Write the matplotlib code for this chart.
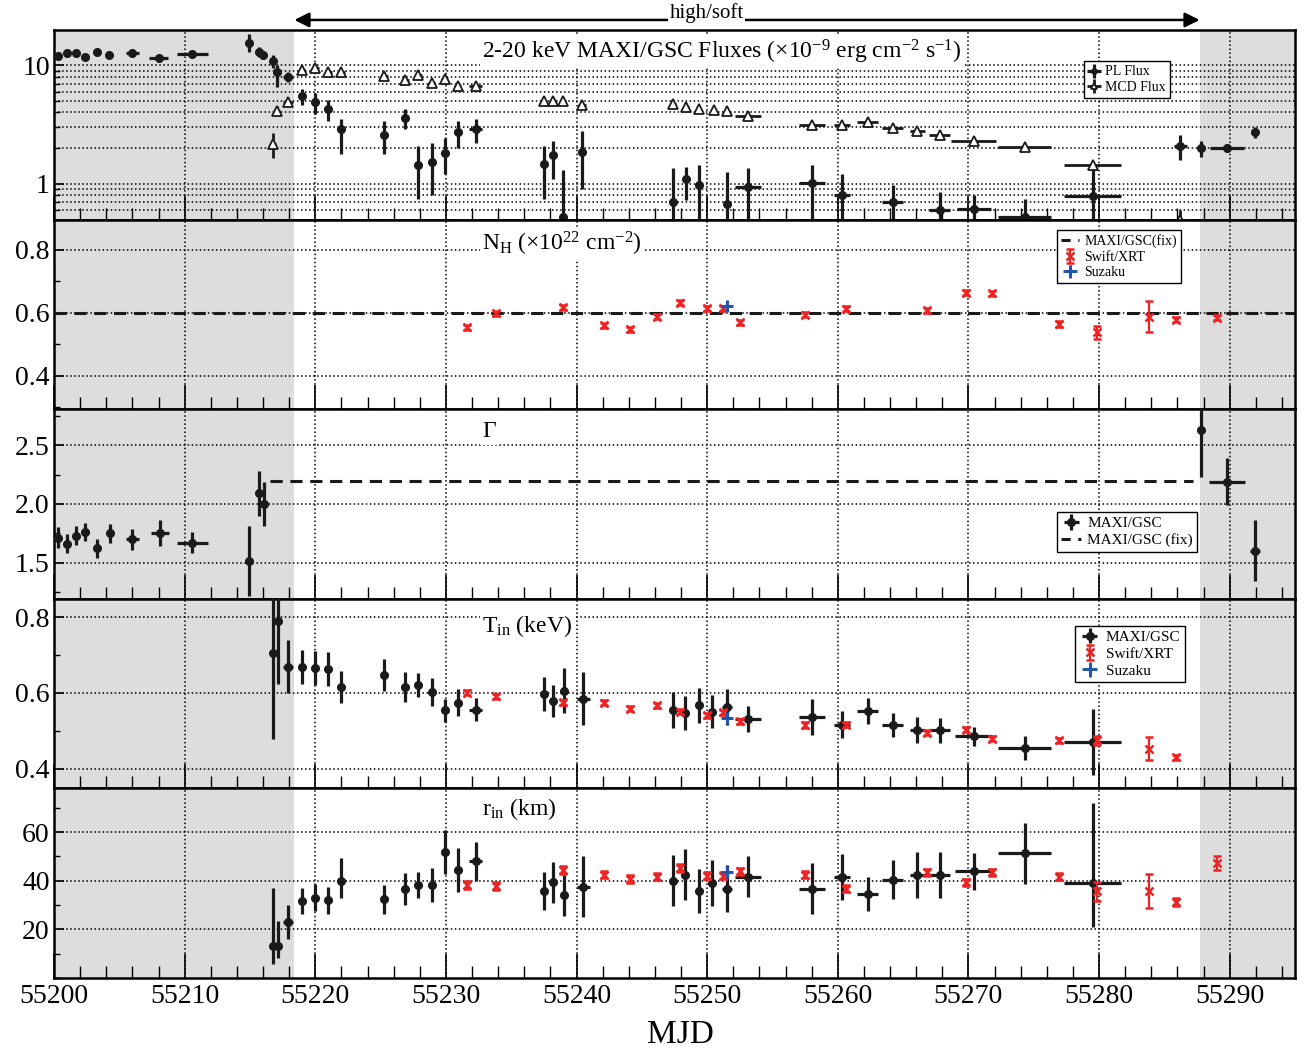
import numpy as np
import matplotlib.pyplot as plt
from matplotlib.ticker import MultipleLocator, LogLocator, NullFormatter, FixedLocator, FixedFormatter
from matplotlib.lines import Line2D

plt.rcParams['font.family'] = ['Liberation Serif', 'DejaVu Serif']
plt.rcParams['mathtext.fontset'] = 'custom'
plt.rcParams['mathtext.rm'] = 'Liberation Serif'
plt.rcParams['mathtext.it'] = 'Liberation Serif:italic'

# ---- MAXI/GSC power-law flux (x1e-9 erg/cm2/s), bounds lo/hi
t_pl = [55200.3, 55201.0, 55201.7, 55202.4, 55203.3, 55204.2, 55206.0, 55208.0, 55210.6,
        55214.9, 55215.7, 55216.0, 55216.8, 55217.1, 55217.9, 55219.0, 55220.0, 55221.0,
        55222.0, 55225.3, 55226.9, 55227.9, 55228.9, 55229.9, 55230.9, 55232.3, 55237.5,
        55238.2, 55239.0, 55240.4, 55247.4, 55248.4, 55249.35, 55251.5, 55253.1, 55258.0,
        55260.3, 55264.2, 55267.8, 55270.4, 55274.3, 55279.5, 55286.2, 55287.8, 55289.8,
        55291.9]
te_pl = [0.25, 0.25, 0.25, 0.25, 0.25, 0.25, 0.5, 0.7, 1.2,
         0.2, 0.2, 0.2, 0.2, 0.2, 0.4, 0.25, 0.25, 0.25,
         0.25, 0.25, 0.25, 0.25, 0.25, 0.25, 0.25, 0.5, 0.2,
         0.2, 0.2, 0.3, 0.2, 0.2, 0.2, 0.2, 1.0, 1.0,
         0.6, 0.8, 0.8, 1.3, 2.0, 2.2, 0.5, 0.1, 1.3,
         0.3]
pl = [12.0, 12.6, 12.6, 11.8, 13.0, 12.2, 12.6, 11.6, 12.4,
      15.5, 13.0, 12.2, 10.8, 8.7, 7.9, 5.5, 4.9, 4.3,
      2.9, 2.6, 3.6, 1.44, 1.54, 1.83, 2.75, 2.9, 1.46,
      1.74, 0.53, 1.86, 0.71, 1.09, 0.97, 0.68, 0.95, 1.02,
      0.81, 0.70, 0.60, 0.62, 0.53, 0.79, 2.09, 2.0, 2.0,
      2.75]
pl_lo = [11.6, 12.2, 12.2, 11.4, 12.5, 11.8, 12.1, 11.1, 11.8,
         12.8, 11.8, 11.2, 9.5, 6.5, 7.2, 4.6, 3.9, 3.4,
         1.8, 1.8, 2.9, 0.74, 0.8, 1.2, 2.0, 2.2, 0.75,
         1.1, 0.45, 0.9, 0.45, 0.73, 0.45, 0.45, 0.5, 0.5,
         0.45, 0.48, 0.45, 0.45, 0.45, 0.45, 1.6, 1.7, 1.85,
         2.45]
pl_hi = [12.4, 13.0, 13.0, 12.2, 13.5, 12.6, 13.1, 12.1, 13.0,
         18.3, 14.2, 13.3, 12.2, 10.1, 8.7, 6.3, 5.8, 5.1,
         3.5, 3.4, 4.3, 2.1, 2.2, 2.45, 3.4, 3.5, 2.1,
         2.3, 1.3, 2.8, 1.35, 1.4, 1.45, 1.25, 1.35, 1.45,
         1.2, 0.98, 0.85, 0.8, 0.75, 1.45, 2.6, 2.3, 2.15,
         3.0]

# ---- MAXI/GSC MCD flux
t_mf = [55216.8, 55217.1, 55217.9, 55219.0, 55220.0, 55221.0, 55222.0, 55225.3, 55226.9,
        55227.9, 55228.9, 55229.9, 55230.9, 55232.3, 55237.5, 55238.2, 55239.0, 55240.4,
        55247.4, 55248.4, 55249.35, 55250.5, 55251.5, 55253.1, 55258.0, 55260.3, 55262.3,
        55264.2, 55266.1, 55267.8, 55270.4, 55274.3, 55279.5, 55286.2]
te_mf = [0.2, 0.2, 0.4, 0.25, 0.25, 0.25, 0.25, 0.25, 0.25,
         0.25, 0.25, 0.25, 0.25, 0.5, 0.2, 0.2, 0.2, 0.3,
         0.2, 0.2, 0.2, 0.2, 0.2, 1.0, 1.0, 0.6, 0.8,
         0.8, 0.6, 0.8, 1.7, 2.0, 2.2, 0.2]
mf = [2.16, 4.15, 4.9, 9.1, 9.4, 8.8, 8.8, 8.1, 7.5,
      8.3, 7.1, 7.7, 6.7, 6.7, 5.0, 5.0, 5.0, 4.65,
      4.72, 4.48, 4.29, 4.2, 4.15, 3.76, 3.13, 3.13, 3.34,
      2.93, 2.77, 2.59, 2.31, 2.05, 1.44, 0.5]
mf_err = [0.5, 0.35, 0.3, 0.3, 0.3, 0.3, 0.3, 0.3, 0.3,
          0.3, 0.3, 0.3, 0.25, 0.25, 0.15, 0.15, 0.15, 0.2,
          0.15, 0.15, 0.15, 0.15, 0.15, 0.1, 0.1, 0.1, 0.12,
          0.1, 0.1, 0.1, 0.08, 0.06, 0.1, 0.1]

# ---- photon index (MAXI/GSC)
t_g = [55200.3, 55201.0, 55201.7, 55202.4, 55203.3, 55204.3, 55206.0, 55208.1, 55210.6,
       55214.9, 55215.7, 55216.1, 55287.8, 55289.8, 55291.95]
te_g = [0.25, 0.25, 0.25, 0.25, 0.25, 0.25, 0.5, 0.7, 1.2,
        0.1, 0.1, 0.1, 0.1, 1.35, 0.4]
gam = [1.71, 1.66, 1.73, 1.76, 1.62, 1.75, 1.70, 1.75, 1.67,
       1.51, 2.09, 2.00, 2.63, 2.19, 1.60]
gam_err = [0.09, 0.08, 0.08, 0.08, 0.08, 0.08, 0.09, 0.11, 0.09,
           0.30, 0.19, 0.19, 0.40, 0.20, 0.26]
gam_fix = 2.2
t_gfix = [55216.5, 55287.2]

# ---- MCD parameters (MAXI/GSC)
t_m = [55216.8, 55217.15, 55217.9, 55219.0, 55220.0, 55221.0, 55222.0, 55225.3, 55226.9,
       55227.9, 55228.9, 55229.9, 55230.9, 55232.3, 55237.5, 55238.2, 55239.05, 55240.5,
       55247.4, 55248.3, 55249.35, 55250.4, 55251.5, 55253.1, 55258.0, 55260.3, 55262.3,
       55264.2, 55266.1, 55267.8, 55270.4, 55274.3, 55279.5]
te_m = [0.1, 0.1, 0.4, 0.25, 0.25, 0.25, 0.25, 0.25, 0.25,
        0.25, 0.25, 0.25, 0.25, 0.5, 0.2, 0.2, 0.2, 0.5,
        0.2, 0.2, 0.2, 0.2, 0.4, 1.0, 1.0, 0.6, 0.8,
        0.8, 0.6, 0.8, 1.4, 2.0, 2.2]
tin = [0.705, 0.789, 0.669, 0.668, 0.665, 0.663, 0.615, 0.648, 0.615,
       0.620, 0.603, 0.554, 0.574, 0.556, 0.598, 0.578, 0.606, 0.584,
       0.554, 0.547, 0.567, 0.550, 0.562, 0.531, 0.537, 0.516, 0.552,
       0.515, 0.503, 0.501, 0.486, 0.455, 0.470]
tin_lo = [0.226, 0.165, 0.07, 0.045, 0.045, 0.045, 0.043, 0.042, 0.04,
          0.032, 0.037, 0.03, 0.035, 0.03, 0.045, 0.042, 0.06, 0.07,
          0.047, 0.044, 0.046, 0.044, 0.047, 0.035, 0.048, 0.036, 0.034,
          0.032, 0.034, 0.033, 0.025, 0.032, 0.087]
tin_hi = [0.2, 0.165, 0.07, 0.045, 0.045, 0.045, 0.043, 0.042, 0.04,
          0.032, 0.037, 0.03, 0.035, 0.03, 0.045, 0.042, 0.06, 0.07,
          0.047, 0.044, 0.046, 0.044, 0.047, 0.035, 0.048, 0.036, 0.034,
          0.032, 0.034, 0.033, 0.025, 0.032, 0.087]
rin = [13.3, 13.3, 23.1, 31.7, 33.1, 32.0, 40.0, 32.4, 36.5,
       38.3, 38.3, 51.8, 44.4, 48.0, 35.8, 39.3, 34.0, 37.5,
       40.0, 42.5, 35.8, 39.0, 36.8, 41.7, 36.8, 41.4, 34.7,
       40.4, 42.5, 42.5, 43.9, 51.3, 39.0]
rin_lo = [7.6, 5.0, 7.0, 5.5, 5.7, 5.5, 7.2, 6.0, 6.5,
          5.5, 7.0, 9.0, 9.0, 8.0, 8.0, 8.5, 8.5, 12.5,
          10.5, 10.5, 9.0, 9.5, 9.5, 8.5, 10.5, 9.5, 7.0,
          8.0, 9.5, 9.5, 7.5, 12.5, 18.0]
rin_hi = [23.6, 10.0, 7.0, 5.5, 5.7, 5.5, 9.4, 6.0, 6.5,
          5.5, 7.0, 9.0, 9.0, 8.0, 8.0, 8.5, 8.5, 12.5,
          10.5, 10.5, 9.0, 9.5, 9.5, 8.5, 10.5, 9.5, 7.0,
          8.0, 9.5, 9.5, 7.5, 12.5, 33.0]

# ---- Swift/XRT
t_x = [55231.65, 55233.8, 55238.97, 55242.1, 55244.1, 55246.15, 55247.95, 55250.0, 55251.2,
       55252.5, 55257.5, 55260.6, 55266.8, 55269.8, 55271.8, 55276.9, 55279.85, 55283.8,
       55285.9, 55289.0]
nh_x = [0.553, 0.598, 0.617, 0.560, 0.547, 0.587, 0.632, 0.614, 0.614,
        0.570, 0.593, 0.612, 0.608, 0.663, 0.661, 0.564, 0.537, 0.587,
        0.577, 0.584]
nh_x_err = [0.008, 0.008, 0.008, 0.008, 0.008, 0.008, 0.008, 0.008, 0.008,
            0.008, 0.008, 0.008, 0.008, 0.008, 0.008, 0.008, 0.02, 0.05,
            0.008, 0.008]
tin_x = [0.600, 0.591, 0.575, 0.574, 0.558, 0.567, 0.550, 0.541, 0.549,
         0.525, 0.515, 0.516, 0.495, 0.503, 0.479, 0.475, 0.475, 0.453,
         0.430, np.nan]
tin_x_err = [0.007, 0.007, 0.007, 0.007, 0.007, 0.007, 0.007, 0.007, 0.007,
             0.007, 0.007, 0.007, 0.007, 0.007, 0.007, 0.007, 0.012, 0.03,
             0.007, 0.0]
rin_x = [38.3, 37.9, 44.4, 42.5, 40.7, 41.7, 45.3, 42.1, 42.1,
         43.9, 42.5, 36.8, 43.5, 39.3, 43.5, 41.7, 35.6, 35.8,
         31.3, 47.3]
rin_x_err = [1.5, 1.5, 1.5, 1.5, 1.5, 1.5, 1.5, 1.5, 1.5,
             1.5, 1.5, 1.5, 1.5, 1.5, 1.5, 1.5, 4.0, 7.0,
             1.5, 3.0]

# ---- Suzaku
t_s = [55251.5]
nh_s = [0.622]
tin_s = [0.534]
rin_s = [43.5]

nh_fix = 0.6

xmin, xmax = 55200, 55295
soft_start, soft_end = 55218.4, 55287.7
red = '#ee2222'
blue = '#2255aa'

fig = plt.figure(figsize=(13.04, 10.54), dpi=100)
gs = fig.add_gridspec(5, 1, left=54/1304, right=1295/1304, top=1-30/1054,
                      bottom=1-978/1054, hspace=0)
axes = [fig.add_subplot(gs[0])]
for i in range(1, 5):
    axes.append(fig.add_subplot(gs[i], sharex=axes[0]))

blk = dict(fmt='o', color='#1a1a1a', ms=5.5, elinewidth=2.3, capsize=0, zorder=4)
xrt = dict(fmt='x', color=red, ms=6, mew=1.8, elinewidth=1.6, capsize=3, capthick=1.8, zorder=5)
suz = dict(fmt='+', color=blue, ms=8, mew=2.2, elinewidth=2, capsize=0, zorder=6)

for ax in axes:
    ax.axvspan(xmin, soft_start, color='#dddddd', zorder=0, lw=0)
    ax.axvspan(soft_end, xmax, color='#dddddd', zorder=0, lw=0)
    ax.set_xlim(xmin, xmax)
    ax.xaxis.set_major_locator(MultipleLocator(10))
    ax.xaxis.set_minor_locator(MultipleLocator(2))
    ax.tick_params(axis='x', which='major', direction='in', length=17, width=1.2,
                   labelsize=20, pad=4)
    ax.tick_params(axis='x', which='minor', direction='in', length=9, width=1.0)
    ax.tick_params(axis='y', which='major', direction='in', length=7, width=1.2,
                   labelsize=20, pad=3)
    ax.tick_params(axis='y', which='minor', direction='in', length=4, width=1.0)
    for s in ax.spines.values():
        s.set_linewidth(1.8)
    ax.grid(True, which='major', color='k', ls=':', lw=1.1)
    if ax is not axes[-1]:
        ax.tick_params(axis='x', labelbottom=False)

txt = dict(fontsize=17, ha='left', va='center', zorder=7,
           bbox=dict(facecolor='white', edgecolor='none', pad=1.5))
leg_kw = dict(frameon=True, fancybox=False, edgecolor='black', framealpha=1,
              borderpad=0.3, handletextpad=0.4, labelspacing=0.2, borderaxespad=0)

# panel 1: fluxes
ax = axes[0]
ax.set_yscale('log')
ax.set_ylim(0.5, 19.8)
ax.yaxis.set_major_locator(FixedLocator([1, 10]))
ax.yaxis.set_major_formatter(FixedFormatter(['1', '10']))
ax.yaxis.set_minor_locator(LogLocator(base=10, subs=np.arange(2, 10)))
ax.yaxis.set_minor_formatter(NullFormatter())
ax.grid(True, which='minor', axis='y', color='k', ls=':', lw=1.1)
pl_a = np.array(pl)
h_pl = ax.errorbar(t_pl, pl, xerr=te_pl,
                   yerr=[pl_a - np.array(pl_lo), np.array(pl_hi) - pl_a], **blk)
h_mf = ax.errorbar(t_mf, mf, xerr=te_mf, yerr=mf_err, fmt='^', color='#1a1a1a', mfc='white',
                   mec='#1a1a1a', ms=6.5, mew=1.3, elinewidth=2.0, capsize=0, zorder=5)
ax.text(0.345, 0.885, '2-20 keV MAXI/GSC Fluxes (×10$^{-9}$ erg cm$^{-2}$ s$^{-1}$)',
        transform=ax.transAxes, **txt)
ax.legend([h_pl, h_mf], ['PL Flux', 'MCD Flux'], loc='upper left',
          bbox_to_anchor=(0.830, 0.835), fontsize=10, handlelength=0.8,
          markerscale=0.7, **leg_kw)
ax.annotate('', xy=(soft_start, 1.053), xytext=(soft_end, 1.053),
            xycoords=('data', 'axes fraction'), textcoords=('data', 'axes fraction'),
            arrowprops=dict(arrowstyle='<|-|>', color='black', lw=1.8,
                            mutation_scale=22, shrinkA=0, shrinkB=0),
            annotation_clip=False)
ax.text(0.526, 1.09, 'high/soft', transform=ax.transAxes, ha='center', va='center',
        fontsize=15, bbox=dict(facecolor='white', edgecolor='none', pad=1))

# panel 2: NH
ax = axes[1]
ax.set_ylim(0.293, 0.896)
ax.yaxis.set_major_locator(FixedLocator([0.4, 0.6, 0.8]))
ax.yaxis.set_minor_locator(MultipleLocator(0.1))
ax.yaxis.set_major_formatter(FixedFormatter(['0.4', '0.6', '0.8']))
h_fix, = ax.plot([xmin, xmax], [nh_fix, nh_fix], color='#1a1a1a', lw=2.2,
                 ls=(0, (4, 2.5)), zorder=3)
h_x = ax.errorbar(t_x, nh_x, yerr=nh_x_err, **xrt)
h_s = ax.errorbar(t_s, nh_s, xerr=0.25, yerr=0.006, **suz)
ax.text(0.345, 0.87, 'N$_{\\rm H}$ (×10$^{22}$ cm$^{-2}$)', transform=ax.transAxes, **txt)
h_fix_leg = Line2D([], [], color='#1a1a1a', lw=2.2, ls=(0, (3, 2.5, 1, 2.5)))
ax.legend([h_fix_leg, h_x, h_s], ['MAXI/GSC(fix)', 'Swift/XRT', 'Suzaku'],
          loc='upper left', bbox_to_anchor=(0.808, 0.947), fontsize=10,
          handlelength=1.3, **leg_kw)

# panel 3: photon index
ax = axes[2]
ax.set_ylim(1.19, 2.81)
ax.yaxis.set_major_locator(FixedLocator([1.5, 2.0, 2.5]))
ax.yaxis.set_major_formatter(FixedFormatter(['1.5', '2.0', '2.5']))
ax.yaxis.set_minor_locator(MultipleLocator(0.25))
h_g = ax.errorbar(t_g, gam, xerr=te_g, yerr=gam_err, **blk)
h_gf, = ax.plot(t_gfix, [gam_fix, gam_fix], color='#1a1a1a', lw=2.2,
                ls=(0, (4, 2.5)), zorder=3)
ax.text(0.345, 0.88, 'Γ', transform=ax.transAxes, **txt)
h_gf_leg = Line2D([], [], color='#1a1a1a', lw=2.2, ls=(0, (3, 2.5, 1, 2.5)))
ax.legend([h_g, h_gf_leg], ['MAXI/GSC', 'MAXI/GSC (fix)'], loc='upper left',
          bbox_to_anchor=(0.808, 0.458), fontsize=11, handlelength=1.3, **leg_kw)

# panel 4: Tin
ax = axes[3]
ax.set_ylim(0.348, 0.848)
ax.yaxis.set_major_locator(FixedLocator([0.4, 0.6, 0.8]))
ax.yaxis.set_major_formatter(FixedFormatter(['0.4', '0.6', '0.8']))
ax.yaxis.set_minor_locator(MultipleLocator(0.1))
h_t = ax.errorbar(t_m, tin, xerr=te_m, yerr=[tin_lo, tin_hi], **blk)
h_tx = ax.errorbar(t_x, tin_x, yerr=tin_x_err, **xrt)
h_ts = ax.errorbar(t_s, tin_s, xerr=0.4, yerr=0.006, **suz)
ax.text(0.345, 0.855, 'T$_{\\rm in}$ (keV)', transform=ax.transAxes, **txt)
ax.legend([h_t, h_tx, h_ts], ['MAXI/GSC', 'Swift/XRT', 'Suzaku'], loc='upper left',
          bbox_to_anchor=(0.823, 0.858), fontsize=11, handlelength=1.3, **leg_kw)

# panel 5: rin
ax = axes[4]
ax.set_ylim(0, 78)
ax.yaxis.set_major_locator(FixedLocator([20, 40, 60]))
ax.yaxis.set_major_formatter(FixedFormatter(['20', '40', '60']))
ax.yaxis.set_minor_locator(MultipleLocator(10))
ax.errorbar(t_m, rin, xerr=te_m, yerr=[rin_lo, rin_hi], **blk)
ax.errorbar(t_x, rin_x, yerr=rin_x_err, **xrt)
ax.errorbar(t_s, rin_s, xerr=0.3, yerr=0.8, **suz)
ax.text(0.345, 0.89, 'r$_{\\rm in}$ (km)', transform=ax.transAxes, **txt)
ax.xaxis.set_major_formatter(plt.FuncFormatter(lambda v, p: '%d' % v))
fig.text(680/1304, 1 - 1035/1054, 'MJD', fontsize=24, ha='center', va='center')

fig.savefig('out.png', dpi=100)
